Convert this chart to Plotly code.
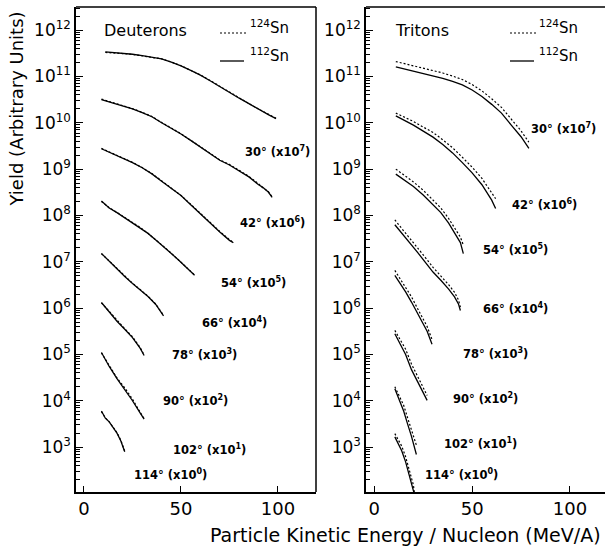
import plotly.graph_objects as go

# ---------------- data (yields already multiplied by the scale factors) ----------------
angles = [30, 42, 54, 66, 78, 90, 102, 114]
scale_exp = [7, 6, 5, 4, 3, 2, 1, 0]
x_ticks = [0, 50, 100]
y_major = [1e3, 1e4, 1e5, 1e6, 1e7, 1e8, 1e9, 1e10, 1e11, 1e12]
y_major_text = ["10<sup>3</sup>", "10<sup>4</sup>", "10<sup>5</sup>", "10<sup>6</sup>",
                "10<sup>7</sup>", "10<sup>8</sup>", "10<sup>9</sup>", "10<sup>10</sup>",
                "10<sup>11</sup>", "10<sup>12</sup>"]

# Deuterons
d30_E = [11, 15, 20, 25, 30, 35, 40, 45, 50, 55, 60, 65, 70, 75, 80, 85, 90, 93, 95, 99]
d30_112 = [3.39e11, 3.31e11, 3.16e11, 3.02e11, 2.82e11, 2.63e11, 2.40e11, 2.04e11, 1.70e11, 1.35e11,
           1.07e11, 8.1e10, 6.0e10, 4.6e10, 3.4e10, 2.6e10, 1.95e10, 1.62e10, 1.50e10, 1.23e10]
d30_124 = [3.30e11, 3.27e11, 3.13e11, 3.00e11, 2.80e11, 2.62e11, 2.40e11, 2.05e11, 1.71e11, 1.36e11,
           1.08e11, 8.2e10, 6.1e10, 4.6e10, 3.5e10, 2.6e10, 1.98e10, 1.70e10, 1.52e10, 1.25e10]
d42_E = [9, 15, 20, 25, 30, 35, 40, 45, 50, 55, 60, 65, 70, 75, 80, 85, 90, 92, 95, 97]
d42_112 = [3.16e10, 2.69e10, 2.29e10, 2.0e10, 1.66e10, 1.35e10, 1.0e10, 7.6e9, 5.75e9, 4.17e9,
           3.02e9, 2.14e9, 1.55e9, 1.23e9, 9.3e8, 6.8e8, 4.6e8, 4.1e8, 3.2e8, 2.45e8]
d42_124 = [3.25e10, 2.75e10, 2.33e10, 2.02e10, 1.68e10, 1.37e10, 1.02e10, 7.8e9, 5.8e9, 4.2e9,
           3.05e9, 2.18e9, 1.58e9, 1.26e9, 9.5e8, 7.0e8, 4.8e8, 4.0e8, 3.3e8, 2.5e8]
d54_E = [9, 15, 20, 25, 30, 35, 40, 45, 50, 55, 60, 65, 70, 75, 77]
d54_112 = [2.75e9, 2.14e9, 1.74e9, 1.38e9, 1.07e9, 7.9e8, 5.5e8, 3.9e8, 2.7e8, 1.7e8, 1.07e8,
           6.9e7, 4.4e7, 2.9e7, 2.57e7]
d54_124 = [2.80e9, 2.16e9, 1.76e9, 1.40e9, 1.08e9, 8.0e8, 5.6e8, 3.95e8, 2.7e8, 1.75e8, 1.1e8,
           7.0e7, 4.5e7, 3.0e7, 2.6e7]
d66_E = [9, 13, 17, 21, 25, 29, 33, 37, 41, 45, 49, 53, 57]
d66_112 = [2.04e8, 1.45e8, 1.15e8, 8.9e7, 7.1e7, 5.4e7, 4.1e7, 2.95e7, 2.14e7, 1.51e7, 1.07e7, 7.4e6, 5.1e6]
d66_124 = [2.0e8, 1.47e8, 1.16e8, 9.0e7, 7.2e7, 5.5e7, 4.1e7, 3.0e7, 2.15e7, 1.53e7, 1.08e7, 7.5e6, 5.2e6]
d78_E = [9, 13, 17, 21, 25, 29, 33, 37, 41]
d78_112 = [1.51e7, 1.02e7, 6.9e6, 4.8e6, 3.4e6, 2.45e6, 1.78e6, 1.2e6, 6.8e5]
d78_124 = [1.5e7, 1.04e7, 7.0e6, 4.9e6, 3.45e6, 2.5e6, 1.8e6, 1.22e6, 7.0e5]
d90_E = [9, 13, 17, 21, 25, 29, 31]
d90_112 = [1.32e6, 8.3e5, 5.2e5, 3.5e5, 2.3e5, 1.35e5, 9.5e4]
d90_124 = [1.3e6, 8.4e5, 5.3e5, 3.6e5, 2.4e5, 1.4e5, 9.7e4]
d102_E = [9, 13, 17, 21, 25, 29, 31]
d102_112 = [1.1e5, 5.5e4, 3.0e4, 1.74e4, 1.0e4, 5.4e3, 4.0e3]
d102_124 = [1.08e5, 5.6e4, 3.1e4, 1.9e4, 1.08e4, 5.6e3, 4.1e3]
d114_E = [9, 11, 13, 15, 17, 19, 21]
d114_112 = [6.0e3, 4.2e3, 3.5e3, 2.6e3, 2.0e3, 1.35e3, 7.9e2]
d114_124 = [5.8e3, 4.3e3, 3.5e3, 2.7e3, 2.05e3, 1.4e3, 8.1e2]

# Tritons
t30_E = [11, 15, 20, 25, 30, 35, 40, 45, 50, 55, 60, 65, 70, 75, 79]
t30_112 = [1.62e11, 1.48e11, 1.32e11, 1.17e11, 1.05e11, 9.1e10, 7.8e10, 6.6e10, 5.1e10, 3.7e10,
           2.5e10, 1.62e10, 8.9e9, 5.0e9, 2.8e9]
t30_124 = [2.1e11, 1.92e11, 1.72e11, 1.52e11, 1.37e11, 1.19e11, 1.02e11, 8.6e10, 6.7e10, 4.9e10,
           3.3e10, 2.15e10, 1.2e10, 6.7e9, 3.8e9]
t42_E = [11, 15, 20, 25, 30, 35, 40, 45, 50, 55, 60, 62]
t42_112 = [1.41e10, 1.15e10, 8.9e9, 6.6e9, 4.9e9, 3.4e9, 2.24e9, 1.38e9, 8.3e8, 4.6e8, 2.14e8, 1.41e8]
t42_124 = [1.62e10, 1.35e10, 1.07e10, 8.1e9, 6.2e9, 4.3e9, 2.9e9, 1.8e9, 1.1e9, 6.3e8, 3.2e8, 2.3e8]
t54_E = [11, 15, 20, 25, 30, 34, 38, 41, 44, 45.5]
t54_112 = [7.8e8, 6.0e8, 4.2e8, 2.75e8, 1.74e8, 1.15e8, 6.8e7, 4.3e7, 2.6e7, 1.5e7]
t54_124 = [1.0e9, 7.6e8, 5.3e8, 3.5e8, 2.2e8, 1.45e8, 8.6e7, 5.5e7, 3.4e7, 2.3e7]
t66_E = [10.5, 14, 18, 22, 26, 30, 34, 38, 41, 43, 44]
t66_112 = [6.3e7, 4.2e7, 2.63e7, 1.62e7, 9.8e6, 6.0e6, 4.0e6, 2.57e6, 1.74e6, 1.23e6, 8.9e5]
t66_124 = [8.0e7, 5.3e7, 3.3e7, 2.05e7, 1.25e7, 7.6e6, 5.0e6, 3.2e6, 2.2e6, 1.5e6, 1.05e6]
t78_E = [10.5, 13, 16, 19, 22, 25, 27, 29.5]
t78_112 = [5.1e6, 3.55e6, 2.24e6, 1.35e6, 7.9e5, 4.7e5, 3.16e5, 1.66e5]
t78_124 = [6.5e6, 4.5e6, 2.9e6, 1.75e6, 1.0e6, 6.0e5, 4.0e5, 2.1e5]
t90_E = [10.5, 13, 16, 19, 22, 25, 27]
t90_112 = [2.8e5, 1.78e5, 1.0e5, 4.7e4, 2.6e4, 1.45e4, 1.02e4]
t90_124 = [3.3e5, 2.2e5, 1.3e5, 6.2e4, 3.4e4, 1.9e4, 1.3e4]
t102_E = [10.5, 13, 15, 17, 19, 21.5]
t102_112 = [1.82e4, 9.5e3, 6.0e3, 3.16e3, 1.7e3, 6.9e2]
t102_124 = [2.0e4, 1.25e4, 8.0e3, 4.3e3, 2.3e3, 1.1e3]
t114_E = [10.5, 12, 14, 16, 18, 20, 20.5]
t114_112 = [1.66e3, 1.26e3, 8.3e2, 4.8e2, 2.4e2, 1.15e2, 95]
t114_124 = [1.95e3, 1.5e3, 1.05e3, 6.2e2, 3.2e2, 1.5e2, 1.0e2]

deut = [(d30_E, d30_112, d30_124), (d42_E, d42_112, d42_124), (d54_E, d54_112, d54_124),
        (d66_E, d66_112, d66_124), (d78_E, d78_112, d78_124), (d90_E, d90_112, d90_124),
        (d102_E, d102_112, d102_124), (d114_E, d114_112, d114_124)]
trit = [(t30_E, t30_112, t30_124), (t42_E, t42_112, t42_124), (t54_E, t54_112, t54_124),
        (t66_E, t66_112, t66_124), (t78_E, t78_112, t78_124), (t90_E, t90_112, t90_124),
        (t102_E, t102_112, t102_124), (t114_E, t114_112, t114_124)]

# ---------------- figure ----------------
W, H = 605, 548
L, R, T, B = 76, 0, 7, 56
PW, PH = W - L - R, H - T - B
FONT = "DejaVu Sans"
DASH = "2px,2px"


def px(x):
    return (x - L) / PW


def py(y):
    return (H - B - y) / PH


fig = go.Figure()
for panel, xa, ya in [(deut, "x", "y"), (trit, "x2", "y2")]:
    for E, y112, y124 in panel:
        fig.add_trace(go.Scatter(x=E, y=y124, mode="lines", xaxis=xa, yaxis=ya,
                                 line=dict(color="black", width=1.2, dash=DASH),
                                 showlegend=False, hoverinfo="skip"))
        fig.add_trace(go.Scatter(x=E, y=y112, mode="lines", xaxis=xa, yaxis=ya,
                                 line=dict(color="black", width=1.3),
                                 showlegend=False, hoverinfo="skip"))

minor_vals = [m * 10 ** k for k in range(2, 13) for m in range(2, 10)]

common_x = dict(tickvals=x_ticks, ticks="inside", ticklen=6, tickwidth=1.2, tickcolor="black",
                showline=True, linecolor="black", linewidth=1.5, mirror=False,
                showgrid=False, zeroline=False, automargin=False,
                tickfont=dict(family=FONT, size=18, color="black"))
common_y = dict(type="log", range=[2.03, 12.5], tickvals=y_major, ticktext=y_major_text,
                ticks="inside", ticklen=7, tickwidth=1.2, tickcolor="black",
                minor=dict(tickvals=minor_vals, ticks="inside", ticklen=4, tickwidth=1,
                           tickcolor="black"),
                showline=True, linecolor="black", linewidth=1.5, mirror=False,
                showgrid=False, zeroline=False, automargin=False,
                tickfont=dict(family=FONT, size=17, color="black"))

split1 = 240 / PW
split2 = 290 / PW
fig.update_layout(
    width=W, height=H,
    margin=dict(l=L, r=R, t=T, b=B),
    paper_bgcolor="white", plot_bgcolor="white",
    xaxis=dict(domain=[0, split1], range=[-4.12, 119.6], anchor="y", **common_x),
    xaxis2=dict(domain=[split2, 1], range=[-4.24, 117.9], anchor="y2", **common_x),
    yaxis=dict(domain=[0, 1], anchor="x", **common_y),
    yaxis2=dict(domain=[0, 1], anchor="x2", **common_y),
)

# frame edges: left panel top + right side, right panel top only
frame = dict(color="black", width=1.5)
fig.add_shape(type="line", xref="paper", yref="paper", x0=0, x1=split1, y0=1, y1=1, line=frame)
fig.add_shape(type="line", xref="paper", yref="paper", x0=split1, x1=split1, y0=0, y1=1, line=frame)
fig.add_shape(type="line", xref="paper", yref="paper", x0=split2, x1=1, y0=1, y1=1, line=frame)

ann = []
# curve labels (pixel centres)
left_lbl = [(277, 151), (272, 222), (253, 282), (234, 322), (204, 354), (195, 400), (209, 449), (170, 474)]
right_lbl = [(563, 128), (544, 204), (515, 249), (515, 308), (495, 353), (485, 398), (480, 443), (461, 474)]
for pos in (left_lbl, right_lbl):
    for (xp, yp), a, e in zip(pos, angles, scale_exp):
        ann.append(dict(text=f"<b>{a}° (x10<sup>{e}</sup>)</b>", x=px(xp), y=py(yp),
                        xref="paper", yref="paper", xanchor="center", yanchor="middle",
                        showarrow=False, font=dict(family=FONT, size=11.5, color="black")))

# panel names and legends
for name, cx, lx0, tx in [("Deuterons", 145, 220, 248), ("Tritons", 422, 510, 537)]:
    ann.append(dict(text=name, x=px(cx), y=py(30), xref="paper", yref="paper",
                    xanchor="center", yanchor="middle", showarrow=False,
                    font=dict(family=FONT, size=16, color="black")))
    ann.append(dict(text="<sup>124</sup>Sn", x=px(tx), y=py(27), xref="paper", yref="paper",
                    xanchor="left", yanchor="middle", showarrow=False,
                    font=dict(family=FONT, size=15, color="black")))
    ann.append(dict(text="<sup>112</sup>Sn", x=px(tx), y=py(55), xref="paper", yref="paper",
                    xanchor="left", yanchor="middle", showarrow=False,
                    font=dict(family=FONT, size=15, color="black")))
    fig.add_shape(type="line", xref="paper", yref="paper", x0=px(lx0), x1=px(lx0 + 27),
                  y0=py(33), y1=py(33), line=dict(color="black", width=1.2, dash=DASH))
    fig.add_shape(type="line", xref="paper", yref="paper", x0=px(lx0), x1=px(lx0 + 24),
                  y0=py(61), y1=py(61), line=dict(color="black", width=1.3))

# axis titles
ann.append(dict(text="Particle Kinetic Energy / Nucleon (MeV/A)", x=px(603), y=py(535),
                xref="paper", yref="paper", xanchor="right", yanchor="middle", showarrow=False,
                font=dict(family=FONT, size=19, color="black")))
ann.append(dict(text="Yield (Arbitrary Units)", x=px(16), y=py(10), textangle=-90,
                xref="paper", yref="paper", xanchor="center", yanchor="top", showarrow=False,
                font=dict(family=FONT, size=18, color="black")))

fig.update_layout(annotations=ann)
fig.write_html("out.html", config={"displayModeBar": False},
               post_script="document.body.style.margin='0px';document.body.style.overflow='hidden';")
